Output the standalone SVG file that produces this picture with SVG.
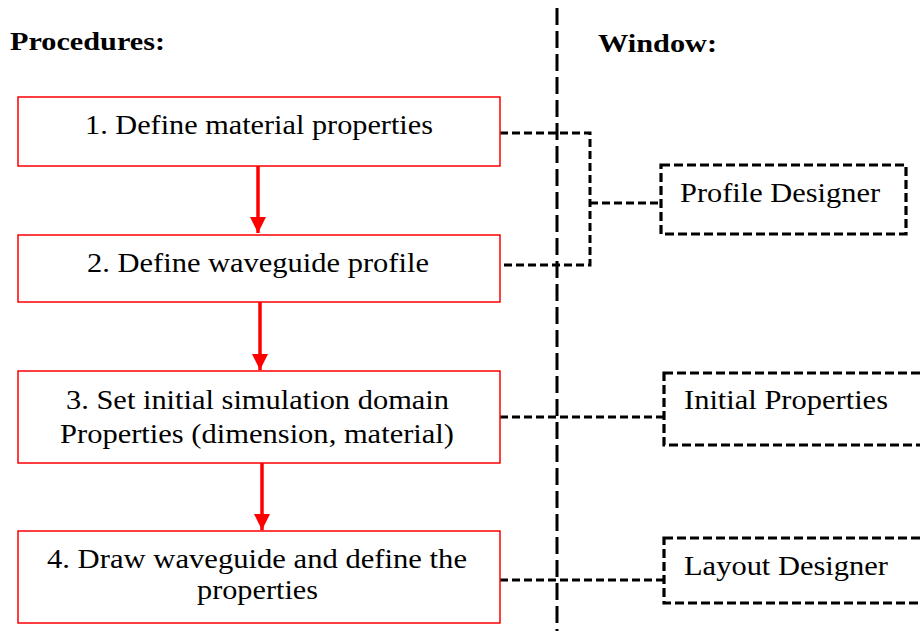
<svg xmlns="http://www.w3.org/2000/svg" width="920" height="631" viewBox="0 0 920 631">
<style>
.proc{fill:#fff;stroke:#ff0000;stroke-width:1.5}
.win{fill:none;stroke:#000;stroke-width:3.2;stroke-dasharray:9 4}
.dl{fill:none;stroke:#000;stroke-width:3;stroke-dasharray:8 4}
.t{font-family:"Liberation Serif","DejaVu Serif","Times New Roman",serif;font-size:27px;fill:#000}
.h{font-family:"Liberation Serif","DejaVu Serif","Times New Roman",serif;font-size:26px;font-weight:bold;fill:#000}
.arr{stroke:#ff0000;stroke-width:3.5;fill:none}
</style>
<defs>
<marker id="ah" viewBox="0 0 10 10" refX="10" refY="5" markerWidth="4.6" markerHeight="4.6" markerUnits="strokeWidth" orient="auto">
<path d="M0,0 L10,5 L0,10 Z" fill="#ff0000"/>
</marker>
</defs>
<rect width="920" height="631" fill="#fff"/>
<text class="h" x="10" y="50" textLength="155" lengthAdjust="spacingAndGlyphs">Procedures:</text>
<text class="h" x="598" y="52" textLength="119" lengthAdjust="spacingAndGlyphs">Window:</text>
<g id="connectors">
<line class="dl" x1="557" y1="8" x2="557" y2="631" style="stroke-dasharray:17 6;stroke-width:3"/>
<path class="dl" d="M500,133 H590 V265 H500"/>
<line class="dl" x1="590" y1="203" x2="661" y2="203"/>
<line class="dl" x1="500" y1="417" x2="664" y2="417"/>
<line class="dl" x1="500" y1="580" x2="664" y2="580"/>
<line class="arr" x1="258" y1="166" x2="258" y2="233" marker-end="url(#ah)"/>
<line class="arr" x1="260" y1="302" x2="260" y2="370" marker-end="url(#ah)"/>
<line class="arr" x1="262" y1="463" x2="262" y2="530" marker-end="url(#ah)"/>
</g>
<g id="p1"><rect class="proc" x="18" y="97" width="482" height="69"/>
<text class="t" x="85" y="134" textLength="348" lengthAdjust="spacingAndGlyphs">1. Define material properties</text></g>
<g id="p2"><rect class="proc" x="18" y="235" width="482" height="67"/>
<text class="t" x="87" y="272" textLength="342" lengthAdjust="spacingAndGlyphs">2. Define waveguide profile</text></g>
<g id="p3"><rect class="proc" x="18" y="371" width="482" height="92"/>
<text class="t" x="66" y="409" textLength="383" lengthAdjust="spacingAndGlyphs">3. Set initial simulation domain</text>
<text class="t" x="60" y="443" textLength="394" lengthAdjust="spacingAndGlyphs">Properties (dimension, material)</text></g>
<g id="p4"><rect class="proc" x="18" y="531" width="482" height="92"/>
<text class="t" x="47" y="568" textLength="420" lengthAdjust="spacingAndGlyphs">4. Draw waveguide and define the</text>
<text class="t" x="197" y="599" textLength="121" lengthAdjust="spacingAndGlyphs">properties</text></g>
<g id="w1"><rect class="win" x="661" y="165" width="245" height="69"/>
<text class="t" x="680" y="202" textLength="200" lengthAdjust="spacingAndGlyphs">Profile Designer</text></g>
<g id="w2"><rect class="win" x="664" y="373" width="270" height="72"/>
<text class="t" x="684" y="409" textLength="204" lengthAdjust="spacingAndGlyphs">Initial Properties</text></g>
<g id="w3"><rect class="win" x="664" y="538" width="270" height="65"/>
<text class="t" x="684" y="575" textLength="204" lengthAdjust="spacingAndGlyphs">Layout Designer</text></g>
</svg>
